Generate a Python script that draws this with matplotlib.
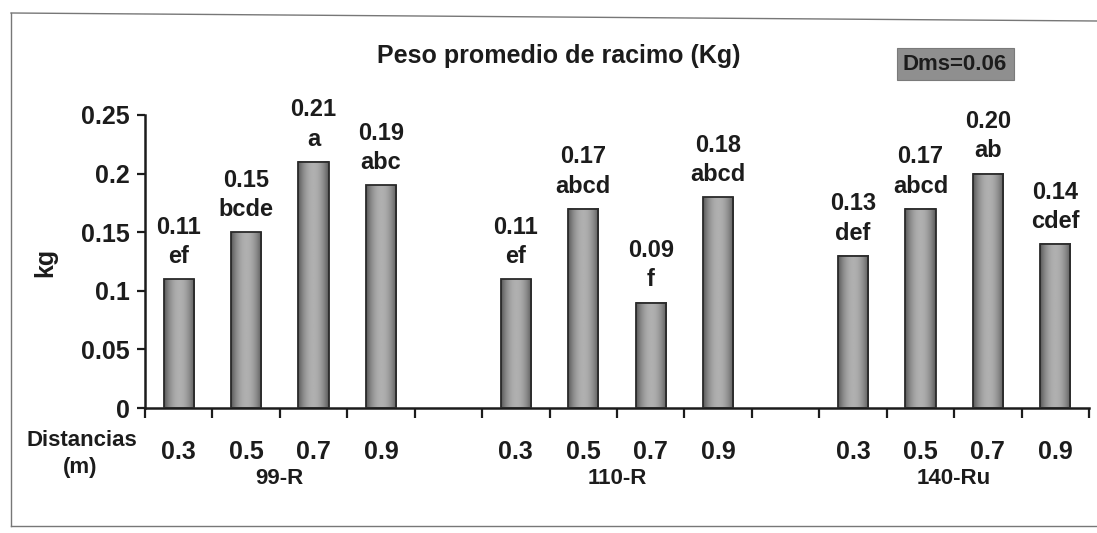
import numpy as np
import matplotlib.pyplot as plt
from matplotlib.patches import Rectangle
from matplotlib.lines import Line2D

plt.rcParams['font.family'] = ['Liberation Sans', 'DejaVu Sans']
plt.rcParams['font.weight'] = 'bold'

# mean cluster weight per rootstock and planting distance
groups = ['99-R', '110-R', '140-Ru']
distances = ['0.3', '0.5', '0.7', '0.9']
peso = [
    [0.11, 0.15, 0.21, 0.19],
    [0.11, 0.17, 0.09, 0.18],
    [0.13, 0.17, 0.20, 0.14],
]
letras = [
    ['ef', 'bcde', 'a', 'abc'],
    ['ef', 'abcd', 'f', 'abcd'],
    ['def', 'abcd', 'ab', 'cdef'],
]
dms = 0.06

W, H = 1097, 533
fig = plt.figure(figsize=(W / 100, H / 100), dpi=100)

def fx(px):
    return px / W

def fy(py):
    return 1 - py / H

ink = '#1c1c1c'

# outer frame of the chart
fig.add_artist(Line2D([fx(11), fx(11)], [fy(13), fy(526)], color='#777777', lw=1))
fig.add_artist(Line2D([fx(11), fx(1097)], [fy(13), fy(21)], color='#777777', lw=1))
fig.add_artist(Line2D([fx(11), fx(1097)], [fy(526), fy(526)], color='#777777', lw=1))

ax = fig.add_axes([fx(145), fy(408), fx(1089) - fx(145), fy(115) - fy(408)])

# horizontal shading across a bar: dark sides, lighter middle
t = np.linspace(-1, 1, 64)
shade = 1 - t ** 2
shade = shade[np.newaxis, :]

bw = 0.45
slot = 0
for g, name in enumerate(groups):
    xs = []
    for i, d in enumerate(distances):
        x = slot
        v = peso[g][i]
        ax.imshow(shade, extent=(x - bw / 2, x + bw / 2, 0, v), aspect='auto',
                  cmap='gray', vmin=-1.0, vmax=1.9, interpolation='bilinear',
                  origin='lower', zorder=2)
        ax.bar(x, v, width=bw, fill=False, edgecolor='#2a2a2a', lw=1.3, zorder=3)
        ax.annotate(f'{v:.2f}\n{letras[g][i]}', (x, v), xytext=(0, 8),
                    textcoords='offset points', ha='center', va='bottom',
                    fontsize=17, color=ink, linespacing=1.35)
        ax.text(x, -0.0375, d, ha='center', va='center',
                fontsize=18, color=ink, clip_on=False)
        xs.append(x)
        slot += 1
    ax.text(np.mean(xs), -0.06, name, ha='center', va='center',
            fontsize=16, color=ink, clip_on=False)
    slot += 1

ax.set_xlim(-0.5, 13.5)
ax.set_ylim(0, 0.25)
ax.set_xticks(np.arange(-0.5, 14, 1))
ax.set_xticklabels([])
ax.set_yticks([0, 0.05, 0.1, 0.15, 0.2, 0.25])
ax.set_yticklabels(['0', '0.05', '0.1', '0.15', '0.2', '0.25'])
ax.tick_params(axis='y', direction='out', length=6, width=1.6, labelsize=18,
               colors=ink, pad=5)
ax.tick_params(axis='x', direction='out', length=7, width=1.6, colors=ink)
for s in ['top', 'right']:
    ax.spines[s].set_visible(False)
for s in ['left', 'bottom']:
    ax.spines[s].set_linewidth(1.8)
    ax.spines[s].set_color(ink)
ax.patch.set_alpha(0)

fig.text(fx(45), fy(262), 'kg', rotation=90, ha='center', va='center',
         fontsize=18, color=ink)
fig.text(fx(82), fy(440), 'Distancias', ha='center', va='center',
         fontsize=16, color=ink)
fig.text(fx(80), fy(467), '(m)', ha='center', va='center',
         fontsize=16, color=ink)

fig.text(fx(559), fy(56), 'Peso promedio de racimo (Kg)', ha='center', va='center',
         fontsize=18, color=ink)

fig.add_artist(Rectangle((fx(897), fy(80)), fx(1014) - fx(897), fy(48) - fy(80),
                         transform=fig.transFigure, facecolor='#8f8f8f',
                         edgecolor='#7a7a7a', lw=0.8))
fig.text(fx(955), fy(64), f'Dms={dms:.2f}', ha='center', va='center',
         fontsize=16, color=ink)

fig.savefig('out.png', dpi=100)
